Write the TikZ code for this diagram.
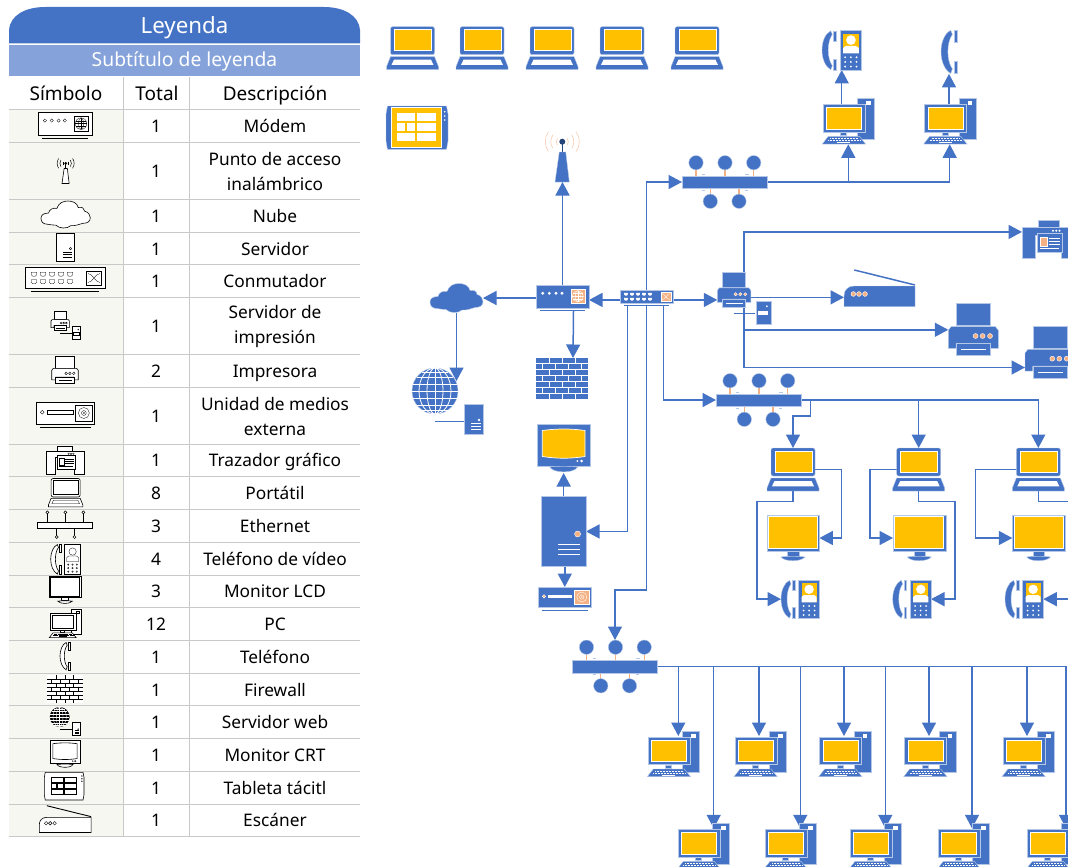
\documentclass[tikz,border=0pt]{standalone}
\usepackage{fontspec}
\setmainfont{Noto Sans}
\usetikzlibrary{arrows.meta,calc}
\definecolor{netblue}{HTML}{4472C4}
\definecolor{edgeblue}{HTML}{B4C7E7}
\definecolor{subblue}{HTML}{85A3DA}
\definecolor{peach}{HTML}{F4B183}
\definecolor{amber}{HTML}{FFC000}
\definecolor{wavecol}{HTML}{F8CBAD}
\definecolor{darkdot}{HTML}{264478}
\definecolor{gridgray}{HTML}{C9C9C9}
\definecolor{legbg}{HTML}{F6F7F1}
\pgfdeclarelayer{bg}
\pgfsetlayers{bg,main}
% --- native sizes of the icons
\def\wlaptop{52}\def\hlaptop{43}
\def\wpc{52}\def\hpc{46}
\def\wvideo{38.3}\def\hvideo{38.3}
\def\wphone{14}\def\hphone{38.5}
\def\whub{85}\def\hhub{53}
\def\whubline{55}\def\hhubline{28}
\def\wwap{35}\def\hwap{54}
\def\wmodem{53}\def\hmodem{26}
\def\wswitch{53.3}\def\hswitch{16.5}
\def\wcloud{53}\def\hcloud{29}
\def\wweb{72}\def\hweb{67}
\def\wfirewall{52}\def\hfirewall{41}
\def\wcrt{52.7}\def\hcrt{49}
\def\wtower{44.7}\def\htower{70.3}
\def\wmedia{53}\def\hmedia{23.3}
\def\wprinter{50}\def\hprinter{53}
\def\wps{53.4}\def\hps{51.7}
\def\wplotter{52}\def\hplotter{38.5}
\def\wscanner{71}\def\hscanner{36.7}
\def\wtablet{62}\def\htablet{43.3}
\def\wlcd{52.7}\def\hlcd{46}
\newcommand\ico[5]{%
  \pgfmathsetmacro\icoW{#5*\csname w#2\endcsname}%
  \pgfmathsetmacro\icoH{#5*\csname h#2\endcsname}%
  \pgfmathsetmacro\icoCX{#3+\icoW/2}%
  \pgfmathsetmacro\icoCY{#4+\icoH/2}%
  \node[iconbox,minimum width=\icoW pt,minimum height=\icoH pt] (#1) at (\icoCX,\icoCY) {};
  \pic[scale=#5] at (#3,#4) {ico#2};
}
\newcommand\handset{%
  \path[icobody] (8.5,0.3) .. controls (3,3) and (0,11) .. (0,19) .. controls (0,27) and (3,35) .. (8.5,38.2)
     -- (10,34) -- (9,32.5) .. controls (7.5,30) and (6,25) .. (6,19) .. controls (6,13) and (7.5,8) .. (9,5.5) -- (10,4) -- cycle;
  \path[icobody] (11.3,0.3) rectangle (13.8,10.5);
  \path[icobody] (11.3,27.5) rectangle (13.8,38.2);
}
\newcommand\prn{%
  \path[icobody] (7.7,0) rectangle (41.7,22.3);
  \path[icobody] (0,45) -- (0,27) -- (3,23.3) -- (47,23.3) -- (50,27) -- (50,45) -- (41.7,45) -- (41.7,40) -- (7.7,40) -- (7.7,45) -- cycle;
  \path[icobody] (7.7,40) rectangle (41.7,52.3);
  \draw[icoline] (13,46) -- (38,46);
  \foreach \dx in {27.3,34.3,41.7} \path[icoaccent] (\dx,32.7) circle (2.5);
}
\tikzset{
  iconbox/.style={inner sep=0pt,outer sep=0pt,draw=none,fill=none},
  conn/.style={draw=netblue,line width=1.5pt,-{Triangle[length=13.5pt,width=14pt]}},
  icobody/.style={fill=netblue,draw=edgeblue,line width=.4pt},
  icoedge/.style={draw=edgeblue,line width=.8pt},
  icoglobe/.style={fill=netblue,draw=edgeblue,line width=.4pt},
  icogrid/.style={draw=white,line width=.8pt},
  icolight/.style={fill=white,draw=none},
  icoline/.style={draw=white,line width=.9pt},
  icokeys/.style={draw=white,line width=1pt,dash pattern=on .9pt off .6pt},
  icoaccent/.style={fill=peach,draw=white,line width=.4pt},
  icoaccline/.style={draw=white,line width=.4pt},
  icoscreen/.style={fill=amber,draw=white,line width=.7pt},
  icowave/.style={draw=wavecol,line width=.6pt},
  icodot/.style={fill=darkdot,draw=none},
  icostem/.style={draw=darkdot,line width=1pt},
  icostub/.style={draw=peach,line width=1.1pt},
  icotick/.style={draw=edgeblue,line width=.5pt},
  icorule/.style={draw=netblue,line width=1pt},
  icolid/.style={draw=netblue,line width=1.5pt},
  icolaptop/.pic={
    \path[icobody,rounded corners=2pt] (4,28) -- (4,0) -- (48,0) -- (48,28) -- cycle;
    \path[icoscreen] (8,3) rectangle (45,24);
    \path[icobody] (0,43) -- (0,40) -- (4,30) -- (48,30) -- (52,40) -- (52,43) -- cycle;
    \path[icolight] (5,38.3) -- (7.5,33) -- (44.5,33) -- (47,38.3) -- cycle;
  },
  icopc/.pic={
    \path[icobody] (35,0) rectangle (52,40.7);
    \path[icolight] (44,3) rectangle (48.5,6.7);
    \path[icobody,icoedge] (1,6.3) rectangle (43,33.7);
    \path[icoscreen] (4.3,9) rectangle (39.3,30.7);
    \path[icobody] (18,33.7) rectangle (24.3,37);
    \path[icobody] (0,45.7) -- (6,38) -- (37,38) -- (43.3,45.7) -- cycle;
    \draw[icokeys] (8,40.2) -- (35.5,40.2);
    \draw[icokeys] (6,42.4) -- (38,42.4);
    \draw[icoline,line width=.7pt] (15,44.4) -- (28,44.4);
  },
  icophone/.pic={\handset},
  icovideo/.pic={
    \handset
    \path[icobody] (17.3,0) rectangle (38.3,38.3);
    \path[icoscreen,draw=none] (20.5,3.3) rectangle (35.7,22.3);
    \path[icolight] (28.1,9.3) circle (4.7);
    \path[icolight] (20.5,22.3) -- (20.5,17) -- (23,15) -- (33,15) -- (35.7,17) -- (35.7,22.3) -- cycle;
    \foreach \kx in {22.5,28,33.5} \foreach \ky in {26,30.5,35} \path[icolight] (\kx,\ky) circle (1);
  },
  icohub/.pic={
    \foreach \hx in {14,43,71.7} {\draw[icostub] (\hx,7.2) -- (\hx,20.5); \path[icobody] (\hx,7.2) circle (7.2);}
    \foreach \hx in {28.3,57} {\draw[icostub] (\hx,33) -- (\hx,45.8); \path[icobody] (\hx,45.8) circle (7.2);}
    \path[icobody] (0,20.5) rectangle (85,33);
    \draw[icotick] (20,18.5) -- (23,18.5);
    \draw[icotick] (63,18.5) -- (67,18.5);
    \draw[icotick] (20,34.5) -- (23,34.5);
    \draw[icotick] (63,34.5) -- (66,34.5);
  },
  icohubline/.pic={
    \foreach \hx in {9.7,27.7,45.7} {\draw[icostub] (\hx,1.7) -- (\hx,11.3); \path[icolight,draw=black,line width=.5pt] (\hx,1.7) circle (1.5);}
    \foreach \hx in {19,36.7} {\draw[icostub] (\hx,17.7) -- (\hx,26.3); \path[icolight,draw=black,line width=.5pt] (\hx,26.3) circle (1.5);}
    \path[icobody] (0,11.3) rectangle (55,17.7);
  },
  icowap/.pic={
    \foreach \rr in {6,11.5,17} {
      \draw[icowave] (17.3,13.7) ++(-35:\rr) arc[start angle=-35,end angle=35,radius=\rr];
      \draw[icowave] (17.3,13.7) ++(145:\rr) arc[start angle=145,end angle=215,radius=\rr];
    }
    \draw[icostem] (17.3,13.7) -- (17.3,24);
    \path[icodot] (17.3,13.7) circle (3);
    \path[icobody] (10,54) -- (14.3,24) -- (20.7,24) -- (24.3,54) -- cycle;
  },
  icomodem/.pic={
    \path[icobody] (0,0) rectangle (53,22.7);
    \draw[icorule] (4,25.3) -- (49,25.3);
    \foreach \dx in {6.7,13.3,20,26} \path[icolight] (\dx,8.3) circle (1.6);
    \path[icoaccent] (34.7,4.3) rectangle (49,18.3);
    \draw[icoaccline] (41.8,11.3) circle (5.6);
    \draw[icoaccline] (41.8,11.3) ellipse[x radius=2.6,y radius=5.6];
    \draw[icoaccline] (36.2,11.3) -- (47.4,11.3);
    \draw[icoaccline] (36.9,8.5) -- (46.7,8.5);
    \draw[icoaccline] (36.9,14.1) -- (46.7,14.1);
    \draw[icoaccline] (41.8,5.7) -- (41.8,16.9);
  },
  icoswitch/.pic={
    \path[icobody] (0,0) rectangle (53.3,13.6);
    \draw[icorule] (4,16) -- (49.3,16);
    \foreach \dx in {6,12,18,24,30} \foreach \dy in {4.5,9.5} \path[icolight] (\dx-1.8,\dy-1.3) -- (\dx+1.8,\dy-1.3) -- (\dx+1.8,\dy+.4) -- (\dx+.8,\dy+1.3) -- (\dx-.8,\dy+1.3) -- (\dx-1.8,\dy+.4) -- cycle;
    \path[icoaccent] (41,2.3) rectangle (51,11.7);
    \draw[icoaccline] (42,4) .. controls (45,4) and (47,10) .. (50,10);
    \draw[icoaccline] (42,10) .. controls (45,10) and (47,4) .. (50,4);
  },
  icocloud/.pic={
    \path[icobody] (7,25) .. controls (2,25) and (0,22) .. (0,18.5) .. controls (0,15) and (3,13) .. (8,13)
      .. controls (9,9) and (13,7) .. (17,8) .. controls (19,2) and (24,0) .. (29,0)
      .. controls (34,0) and (39,2) .. (40,7) .. controls (44,6) and (47,8) .. (47,11)
      .. controls (51,12) and (53,15) .. (53,18) .. controls (53,22) and (50,24) .. (45,24)
      .. controls (41,25) and (37,27) .. (32,26.5) .. controls (28,30) and (20,30) .. (16,26)
      .. controls (13,26) and (10,25.5) .. (7,25) -- cycle;
  },
  icoweb/.pic={
    \path[icoglobe] (23,23) circle (23);
    \draw[icogrid] (0,23) -- (46,23);
    \draw[icogrid] (1.1,16) -- (44.9,16);
    \draw[icogrid] (1.1,30) -- (44.9,30);
    \draw[icogrid] (4.8,9) -- (41.2,9);
    \draw[icogrid] (4.8,37) -- (41.2,37);
    \draw[icogrid] (10,4) -- (36,4);
    \draw[icogrid] (10,42) -- (36,42);
    \draw[icogrid] (23,0) -- (23,46);
    \draw[icogrid] (23,23) ellipse[x radius=8,y radius=23];
    \draw[icogrid] (23,23) ellipse[x radius=16,y radius=23];
    \draw[icorule] (23,53.3) -- (52,53.3);
    \path[icobody] (52.3,36.3) rectangle (71.3,66.3);
    \path[icolight] (67,52) circle (1.3);
    \draw[icoline,line width=.8pt] (59,55.8) -- (69,55.8);
    \draw[icoline,line width=.8pt] (59,58.6) -- (69,58.6);
    \draw[icoline,line width=.8pt] (59,61.4) -- (69,61.4);
  },
  icofirewall/.pic={
    \path[icobody,draw=none] (0,0) rectangle (52,41);
    \foreach \k in {1,...,6} \draw[icoline,line width=.8pt] (0,{\k*41/7}) -- (52,{\k*41/7});
    \foreach \k in {0,2,4,6} \foreach \bx in {13,26,39} \draw[icoline,line width=.8pt] (\bx,{\k*41/7}) -- (\bx,{(\k+1)*41/7});
    \foreach \k in {1,3,5} \foreach \bx in {6.5,19.5,32.5,45.5} \draw[icoline,line width=.8pt] (\bx,{\k*41/7}) -- (\bx,{(\k+1)*41/7});
  },
  icocrt/.pic={
    \path[icobody] (0,0) rectangle (52.7,41.7);
    \path[icoscreen] (5,6.5) .. controls (20,4.5) and (33,4.5) .. (47.7,6.5) -- (47.7,32.5) .. controls (33,34.8) and (20,34.8) .. (5,32.5) -- cycle;
    \path[icolight] (40,37) circle (1);
    \path[icolight] (44.3,37) circle (1.5);
    \path[icobody] (12.3,43) .. controls (20,42) and (33,42) .. (40.3,43) .. controls (37,49.5) and (16,49.5) .. (12.3,43) -- cycle;
  },
  icotower/.pic={
    \path[icobody] (0,0) rectangle (44.7,70.3);
    \path[icoaccent] (36.3,37.7) circle (3);
    \foreach \ly in {47.7,53,58.3} \draw[icoline] (17,\ly) -- (39,\ly);
  },
  icomedia/.pic={
    \path[icobody] (0,0) rectangle (53,20.3);
    \draw[icorule] (4,23.3) -- (49.6,23.3);
    \path[icoaccent] (5.7,9.3) circle (1.7);
    \path[icolight] (10,7.6) rectangle (34,10.6);
    \path[icoaccent] (36,3) rectangle (51,17);
    \draw[icoaccline] (43.5,10) circle (2.2);
    \draw[icoaccline] (43.5,10) circle (5);
    \path[icolight] (43.5,10) circle (.8);
  },
  icoprinter/.pic={\prn},
  icops/.pic={
    \draw[icorule] (16.7,41) -- (37.7,41);
    \path[icobody] (38.7,28.7) rectangle (53.4,51.7);
    \path[icolight] (49.5,34) circle (1);
    \path[icolight] (41,38.5) rectangle (51,43);
    \begin{scope}[scale=.67]\prn\end{scope}
  },
  icoplotter/.pic={
    \path[icobody] (16,0) rectangle (36.7,7);
    \path[icobody] (0,38.5) -- (0,7.5) -- (52,7.5) -- (52,38.5) -- (39,38.5) -- (39,15) -- (13,15) -- (13,38.5) -- cycle;
    \path[icobody] (15,13) rectangle (40,32);
    \path[icoaccent] (18,16.7) rectangle (25,25.7);
    \foreach \ly in {18,21,24} \draw[icoline,line width=.6pt] (26.5,\ly) -- (38,\ly);
    \draw[icoline,line width=.6pt] (18,28.3) -- (37,28.3);
    \foreach \dx in {31,34.2,37.5} \path[icolight] (\dx,10.7) circle (1.1);
  },
  icoscanner/.pic={
    \draw[icolid] (10.3,0) -- (71,15);
    \path[icobody] (0,36.7) -- (0,26) .. controls (0,20) and (4,16) .. (10,16) -- (71,16) -- (71,36.7) -- cycle;
    \foreach \dx in {9.3,15,21} \path[icoaccent] (\dx,24) circle (2.4);
  },
  icotablet/.pic={
    \path[icobody] (1.5,0) -- (0,8) -- (0,35) -- (1.5,43.3) -- (60.5,43.3) -- (62,35) -- (62,8) -- (60.5,0) -- cycle;
    \path[icoscreen,draw=white] (5.7,1.7) rectangle (55.7,41.3);
    \foreach \dy in {5.7,10,14} \path[icolight] (58.7,\dy) circle (.9);
    \foreach \cx/\cy/\cw in {10.7/7.3/18.3,31.3/7.3/18.4,10.7/17.3/8.3,20.7/17.3/8.3,31.3/17.3/18.4,10.7/26.7/18.3,31.3/26.7/18.4}
      \path[icolight] (\cx,\cy) rectangle ++(\cw,8);
  },
  icolcd/.pic={
    \path[icobody] (20.7,36) rectangle (32.3,40.7);
    \path[icobody] (14.3,42) .. controls (20,41) and (32,41) .. (38.3,42) .. controls (34,47) and (18,47) .. (14.3,42) -- cycle;
    \path[icobody] (0,0) rectangle (52.7,35.7);
    \path[icoscreen] (1.7,1.7) rectangle (50.7,33.3);
  },
  legendicons/.style={
    icobody/.style={fill=white,draw=black,line width=.6pt},
    icoedge/.style={draw=black,line width=.6pt},
    icoglobe/.style={fill=black,draw=black},
    icogrid/.style={draw=white,line width=.35pt},
    icolight/.style={fill=white,draw=black,line width=.3pt},
    icoline/.style={draw=black,line width=.5pt},
    icokeys/.style={draw=black,line width=.6pt,dash pattern=on .6pt off .5pt},
    icoaccent/.style={fill=white,draw=black,line width=.4pt},
    icoaccline/.style={draw=black,line width=.3pt},
    icoscreen/.style={fill=white,draw=black,line width=.6pt},
    icowave/.style={draw=black,line width=.5pt},
    icodot/.style={fill=black},
    icostem/.style={draw=black,line width=.6pt},
    icostub/.style={draw=black,line width=.5pt},
    icorule/.style={draw=black,line width=.6pt},
    icolid/.style={draw=black,line width=.9pt}
  },
  legtext/.style={text=black,font=\fontsize{17.3}{25}\selectfont,inner sep=0pt,align=center},
  leghead/.style={text=black,font=\fontsize{19}{24}\selectfont,inner sep=0pt},
  gridline/.style={draw=gridgray,line width=1pt}
}
% one table row: id, top, bottom, total, description
\newcommand\legrow[5]{%
  \fill[legbg] (9,#2) rectangle (123,#3);
  \draw[gridline] (9,#2) -- (360,#2);
  \draw[gridline] (9,#3) -- (360,#3);
  \draw[gridline] (123,#2) -- (123,#3);
  \draw[gridline] (189,#2) -- (189,#3);
  \node[legtext] (tot#1) at (156,{(#2+#3)/2+.8}) {\vphantom{Áp}#4};
  \node[legtext] (dsc#1) at (275,{(#2+#3)/2+.8}) {#5};
}
\begin{document}
\begin{tikzpicture}[x=1pt,y=-1pt]
\useasboundingbox (0,0) rectangle (1068,867);
% ----- legend table
\path[fill=netblue] (9,43.5) -- (9,30) .. controls (10,15) and (26,7) .. (45,7) -- (324,7) .. controls (343,7) and (359,15) .. (360,30) -- (360,43.5) -- cycle;
\node[text=white,font=\fontsize{22.3}{26}\selectfont,inner sep=0pt] (legtitle) at (184.5,25.5) {\vphantom{Áp}Leyenda};
\fill[subblue] (9,45) rectangle (360,76.5);
\node[text=white,font=\fontsize{19.3}{24}\selectfont,inner sep=0pt] (legsub) at (184.5,60) {\vphantom{Áp}Subtítulo de leyenda};
\draw[gridline] (123,77) -- (123,109);
\draw[gridline] (189,77) -- (189,109);
\node[leghead] (hsym) at (66,93.5) {\vphantom{Áp}Símbolo};
\node[leghead] (htot) at (157,93.5) {\vphantom{Áp}Total};
\node[leghead] (hdsc) at (275,93.5) {\vphantom{Áp}Descripción};
\legrow{a}{109}{142}{1}{\vphantom{Áp}Módem}
\legrow{b}{142}{199}{1}{Punto de acceso\\inalámbrico}
\legrow{c}{199}{232}{1}{\vphantom{Áp}Nube}
\legrow{d}{232}{264.5}{1}{\vphantom{Áp}Servidor}
\legrow{e}{264.5}{297}{1}{\vphantom{Áp}Conmutador}
\legrow{f}{297}{354}{1}{Servidor de\\impresión}
\legrow{g}{354}{387}{2}{\vphantom{Áp}Impresora}
\legrow{h}{387}{444}{1}{Unidad de medios\\externa}
\legrow{i}{444}{476}{1}{\vphantom{Áp}Trazador gráfico}
\legrow{j}{476}{509}{8}{\vphantom{Áp}Portátil}
\legrow{k}{509}{542}{3}{\vphantom{Áp}Ethernet}
\legrow{l}{542}{575}{4}{\vphantom{Áp}Teléfono de vídeo}
\legrow{m}{575}{607}{3}{\vphantom{Áp}Monitor LCD}
\legrow{n}{607}{640}{12}{\vphantom{Áp}PC}
\legrow{o}{640}{673}{1}{\vphantom{Áp}Teléfono}
\legrow{p}{673}{705.5}{1}{\vphantom{Áp}Firewall}
\legrow{q}{705.5}{738}{1}{\vphantom{Áp}Servidor web}
\legrow{r}{738}{771}{1}{\vphantom{Áp}Monitor CRT}
\legrow{s}{771}{804}{1}{\vphantom{Áp}Tableta tácitl}
\legrow{t}{804}{836}{1}{\vphantom{Áp}Escáner}
% ----- legend symbols
\begin{scope}[legendicons]
\ico{la}{modem}{38}{112}{1.03}
\ico{lb}{wap}{57}{156.5}{.5}
\ico{lc}{cloud}{41}{201}{.93}
\ico{ld}{tower}{56}{233.5}{.4}
\ico{le}{switch}{25}{267.5}{1.5}
\ico{lf}{ps}{51}{311}{.55}
\ico{lg}{printer}{51.7}{356}{.53}
\ico{lh}{media}{36}{402}{1.1}
\ico{li}{plotter}{46}{446}{.73}
\ico{lj}{laptop}{48.5}{478.5}{.66}
\ico{lk}{hubline}{37.7}{510.7}{1}
\ico{ll}{video}{50.7}{544.3}{.78}
\ico{lm}{lcd}{49.3}{576}{.6}
\ico{ln}{pc}{49.3}{609.3}{.62}
\ico{lo}{phone}{60}{642.3}{.72}
\ico{lp}{firewall}{47.3}{675}{.68}
\ico{lq}{web}{50}{707.3}{.42}
\ico{lr}{crt}{50}{740}{.57}
\ico{ls}{tablet}{44.3}{772.3}{.64}
\ico{lt}{scanner}{39.3}{805.7}{.73}
\end{scope}
% ----- network
\ico{top1}{laptop}{386.5}{26.7}{1}
\ico{top2}{laptop}{456}{26.7}{1}
\ico{top3}{laptop}{526}{26.7}{1}
\ico{top4}{laptop}{596}{26.7}{1}
\ico{top5}{laptop}{671}{26.7}{1}
\ico{tablet}{tablet}{386}{106}{1}
\ico{vidA}{video}{822}{30.5}{1.03}
\ico{phoneA}{phone}{941}{30}{1.14}
\ico{pcA}{pc}{822.3}{98.3}{1}
\ico{pcB}{pc}{923.7}{98.3}{1}
\ico{hubA}{hub}{682}{155.5}{1}
\ico{wap}{wap}{545}{128}{1}
\ico{plotter}{plotter}{1022}{220}{1}
\ico{ps}{ps}{717.3}{272.3}{1}
\ico{scanner}{scanner}{844}{270}{1}
\ico{prnA}{printer}{948.3}{303.3}{1}
\ico{prnB}{printer}{1025}{326}{1}
\ico{cloud}{cloud}{430}{283.5}{1}
\ico{modem}{modem}{536}{285}{1}
\ico{sw}{switch}{620}{289.7}{1}
\ico{web}{web}{412}{368}{1}
\ico{fw}{firewall}{536}{358}{1}
\ico{hubB}{hub}{716}{373.5}{1}
\ico{crt}{crt}{537.3}{424}{1}
\ico{tower}{tower}{541.3}{496.3}{1}
\ico{media}{media}{538.3}{587}{1}
\ico{lapA}{laptop}{767}{448}{1}
\ico{lapB}{laptop}{892.7}{448}{1}
\ico{lapC}{laptop}{1012.3}{448}{1}
\ico{lcdA}{lcd}{766.7}{515}{1}
\ico{lcdB}{lcd}{893}{515}{1}
\ico{lcdC}{lcd}{1012.3}{515}{1}
\ico{vidB}{video}{781}{580}{1}
\ico{vidC}{video}{892.7}{580}{1}
\ico{vidD}{video}{1005}{580}{1}
\ico{hubC}{hub}{572.5}{640}{1}
\ico{p1}{pc}{647.3}{731}{1}
\ico{p2}{pc}{734}{731}{1}
\ico{p3}{pc}{818.7}{731}{1}
\ico{p4}{pc}{903.7}{731}{1}
\ico{p5}{pc}{1002}{731}{1}
\ico{q1}{pc}{677.3}{823.3}{1}
\ico{q2}{pc}{764}{823.3}{1}
\ico{q3}{pc}{849}{823.3}{1}
\ico{q4}{pc}{937.3}{823.3}{1}
\ico{q5}{pc}{1026.3}{823.3}{1}
% ----- connectors (under the icons)
\begin{pgfonlayer}{bg}
\draw[conn] (modem.north) -- (wap.south);
\draw[conn] (modem.west) -- (cloud.east);
\draw[conn] ([yshift=-2pt]sw.west) -- ([yshift=-2pt]sw.west -| modem.east);
\draw[conn] ([yshift=-2pt]sw.east) -- ([yshift=-2pt]sw.east -| ps.west);
\draw[conn] (sw.north) |- (hubA.west);
\draw[conn] (hubA.east) -| (pcA.south);
\draw[conn] (hubA.east) -| (pcB.south);
\draw[conn] (pcA.center -| vidA.south) -- (vidA.south);
\draw[conn] (pcB.center -| phoneA.south) -- (phoneA.south);
\draw[conn] (ps.north) |- ([yshift=7.3pt]plotter.west);
\coordinate (scanin) at ([yshift=-9pt]scanner.west);
\draw[conn] (scanin -| ps.center) -- (scanin);
\draw[conn] (ps.center) |- (prnA.west);
\draw[conn] (ps.center) |- ([yshift=-15pt]prnB.west);
\draw[conn] ([xshift=17pt]sw.south) |- (hubB.west);
\draw[conn] (sw.south) |- ($(hubC.north)+(0,-50)$) -- (hubC.north);
\draw[conn] ([xshift=-19pt]sw.south) |- (tower.east);
\draw[conn] (tower.north) -- (crt.south);
\draw[conn] (tower.south -| media.north) -- (media.north);
\draw[conn] ([xshift=11pt]modem.south) -- ([xshift=11pt]fw.north);
\draw[conn] (hubB.east) -| (lapB.north);
\draw[conn] (hubB.east) -| (lapC.north);
\draw[conn] (hubB.east) -| ($(lapA.north)+(17.7,-32)$) -| (lapA.north);
\draw[conn] (lapA.center) -| ($(lcdA.east)+(22,0)$) -- (lcdA.east);
\draw[conn] (lapA.south) -- ++(0,10.5) -| ($(vidB.west)+(-24,0)$) -- (vidB.west);
\draw[conn] (lapB.center) -| ($(lcdB.west)+(-23,0)$) -- (lcdB.west);
\draw[conn] (lapB.south) -- ++(0,10.5) -| ($(vidC.east)+(24,0)$) -- (vidC.east);
\draw[conn] (lapC.center) -| ($(lcdC.west)+(-37,0)$) -- (lcdC.west);
\draw[conn] (lapC.south) -- ++(0,10.5) -| ($(vidD.east)+(32,0)$) -- (vidD.east);
\foreach \pcname/\dx in {p1/5,p2/-1,p3/-.7,p4/-.7,p5/-1,q1/10.4,q2/10.3,q3/10.3,q4/8.7,q5/13.7}
  \draw[conn] (hubC.east) -| ([xshift=\dx pt,yshift=-5pt]\pcname.north);
\end{pgfonlayer}
\draw[conn] (cloud.south) -- ($(cloud.south |- web.north)+(0,13)$);
\end{tikzpicture}
\end{document}
